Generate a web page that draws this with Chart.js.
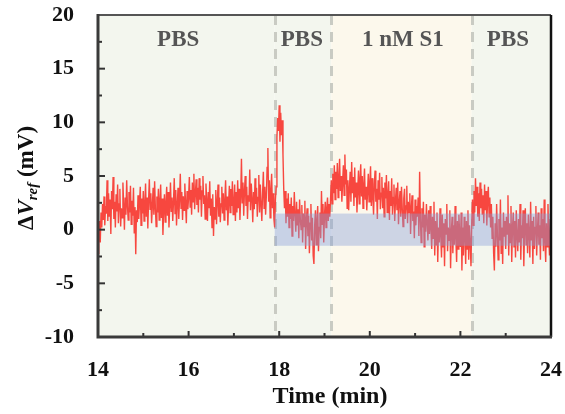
<!DOCTYPE html>
<html>
<head>
<meta charset="utf-8">
<script src="https://cdn.jsdelivr.net/npm/chart.js@4"></script>
<style>
  html, body { margin: 0; padding: 0; background: #fff; }
  #wrap { width: 565px; height: 414px; position: relative; }
</style>
</head>
<body>
<div id="wrap"><canvas id="main-chart"></canvas></div>
<script>
// sampling grid of the trace (min)
const sampleStart = 14;
const sampleStep = 1 / 60;

// ΔV_ref trace (mV), one value per sample (1 s)
const signal = [
  // 14 min
  -2.2, -0.6, 0.8, -1.2, 1.6, 0.2, 2.4, 0.9, 3.1, 0.4, 2.2, 1.5, 4.6, 0.8, 3.4,
  1.2, 2.8, -0.4, 3.6, 1.9, 4.9, 1.0, 2.6, 0.2, 3.3, 1.7, 4.2, 0.6, 2.4, 3.8,
  0.3, 2.0, 1.1, 4.4, 2.3, 0.0, 3.0, 1.4, 4.6, 2.2, 0.9, 3.5, 1.6, 4.1, 0.5,
  2.7, 1.3, 3.9, -0.3, 2.1, -2.3, 1.8, 0.7, 3.2, 1.0, 2.5, 4.0, 0.4, 2.9, 1.5,
  // 15 min
  3.6, 0.8, 2.4, 4.3, 1.2, 3.0, 0.1, 2.7, 4.7, 1.9, 3.4, 0.6, 2.2, 3.9, 1.4,
  4.5, 2.0, 0.3, 3.1, 1.6, 3.8, 0.9, 2.6, 4.2, 1.1, 2.9, -0.5, 1.8, 3.3, 0.7,
  2.5, 4.0, 1.3, 3.5, 0.2, 2.1, 4.4, 1.7, 3.0, 0.8, 2.6, 4.8, 1.5, 3.7, 0.4,
  2.3, 3.9, 1.0, 2.8, 5.2, 2.0, 3.5, 0.9, 3.1, 1.8, 4.3, 2.4, 0.6, 3.6, 1.9,
  // 16 min
  3.0, 4.9, 2.1, 3.7, 1.4, 4.4, 2.6, 5.2, 1.9, 3.4, 4.7, 2.3, 3.9, 1.6, 4.8,
  2.8, 4.1, 1.2, 3.6, 5.0, 2.4, 3.2, 1.0, 4.3, 2.7, 0.8, 3.5, 2.0, 4.5, 1.3,
  2.9, 0.2, 3.3, -0.6, 2.1, 1.0, 3.7, 0.5, 2.6, 4.2, 1.2, 3.0, 0.7, 2.4, 4.0,
  1.5, 3.4, 0.9, 2.7, 4.6, 1.8, 3.1, 0.4, 2.5, 4.1, 1.6, 3.8, 2.2, 4.5, 1.4,
  // 17 min
  2.4, 4.2, 0.8, 3.5, 1.6, 4.6, 2.0, 3.8, 0.9, 3.0, 6.6, 2.5, 4.4, 1.3, 3.6,
  5.0, 2.2, 4.0, 1.0, 3.2, 2.6, 5.6, 1.8, 4.3, 2.9, 0.7, 3.5, 1.9, 4.8, 2.4,
  3.9, 1.2, 3.0, 5.1, 1.6, 4.2, 2.3, 0.8, 3.4, 5.4, 2.0, 4.0, 1.4, 3.2, 5.8,
  7.6, 2.6, 4.6, 1.1, 3.7, 5.2, 2.0, 3.4, 1.0, 0.2, 2.8, 4.0, 8.6, 10.4, 9.2,
  // 18 min
  11.6, 8.2, 10.9, 8.8, 10.2, 7.0, 3.8, 2.0, 3.6, 0.6, 2.9, 1.2, 3.4, 0.2, 2.4,
  1.0, 3.0, -0.6, 2.2, 0.8, 3.5, 1.4, -0.2, 2.6, 0.4, 1.9, -0.8, 2.8, 1.0, 0.0,
  2.3, -1.2, 1.5, 0.3, 2.7, -1.8, 0.9, 2.0, -0.6, 1.3, -2.2, 0.6, 2.4, -1.0, 1.1,
  -2.4, -3.2, 0.4, 1.8, -1.4, 0.8, 2.2, -2.0, 0.2, 1.6, -0.8, 3.6, 0.5, 2.4, -1.2,
  // 19 min
  1.4, 2.6, 0.2, 2.0, 3.0, 0.8, 2.4, 1.2, 2.8, 4.6, 2.4, 5.2, 3.4, 6.0, 2.8,
  5.4, 3.8, 6.2, 3.0, 4.8, 6.6, 3.6, 5.0, 2.6, 4.4, 6.0, 3.2, 7.0, 4.2, 5.6,
  2.0, 4.6, 1.8, 3.8, 5.4, 2.6, 6.3, 3.4, 4.9, 2.2, 5.8, 3.0, 4.4, 1.6, 3.6,
  5.5, 2.4, 4.7, 6.1, 3.1, 5.0, 2.0, 4.2, 5.7, 2.8, 4.0, 1.8, 3.5, 5.2, 2.6,
  // 20 min
  4.3, 5.9, 2.2, 4.8, 3.0, 1.4, 4.2, 5.5, 2.6, 3.8, 1.0, 4.6, 2.8, 5.3, 1.9,
  3.4, 4.9, 2.0, 3.9, 1.2, 4.4, 2.9, 5.1, 1.6, 3.2, 4.5, 0.9, 3.6, 2.2, 4.8,
  1.4, 3.0, 4.2, 0.8, 2.7, 3.9, 1.8, 4.4, 0.5, 2.5, 3.6, 1.2, 4.0, 2.0, 0.3,
  2.9, 3.8, 1.0, 2.2, 4.1, 0.6, 2.6, 1.6, 3.4, -0.4, 2.0, 3.2, 0.8, 1.7, -0.8,
  // 21 min
  2.8, 0.4, 2.2, 1.2, 3.0, -0.6, 5.4, 1.0, -1.2, 2.0, 0.2, 2.6, -1.6, 1.4, -0.2,
  2.4, 0.6, -1.0, 1.8, -0.4, 2.2, 0.0, -1.8, 1.2, -0.8, 2.6, -2.4, 0.8, -1.4, 1.6,
  -3.0, 0.2, -1.2, 2.0, -0.6, -2.6, 1.4, -1.6, 0.6, -3.4, 1.0, -0.4, 2.4, -2.0, 0.2,
  -1.0, 1.8, -3.6, -0.2, 1.2, -2.2, 0.4, -1.4, 2.2, -0.8, -3.0, 0.8, -1.8, 1.4, -0.4,
  // 22 min
  -1.6, 1.6, -3.8, 0.2, -2.4, 1.2, -0.6, -3.2, 0.8, -1.8, 1.8, -2.8, 0.4, -1.2, -3.4,
  0.6, 2.8, 0.4, 3.6, 1.6, 4.8, 2.2, 4.0, 1.2, 3.4, 0.8, 4.4, 2.0, 3.8, 1.4,
  3.2, 0.6, 4.2, 1.8, 3.6, 0.4, 2.8, 4.0, 1.2, 3.0, 0.2, 2.4, -0.8, 1.2, -2.2,
  -3.8, 0.6, -1.6, 2.4, -0.4, -2.8, 1.0, -1.0, 2.8, -2.2, 0.2, -3.2, 1.6, -0.6, 0.8,
  // 23 min
  -1.8, 1.2, -0.4, 3.2, -2.4, 0.6, -1.2, 2.2, -3.0, 0.2, 1.6, -1.6, 0.8, -2.6, 1.8,
  -0.6, -2.0, 1.0, -1.2, 2.4, -2.8, 0.4, -0.8, 1.8, -3.4, 0.0, 2.0, -1.4, 0.6, -2.2,
  1.4, -0.4, -2.6, 2.6, -1.0, 0.8, -3.2, 1.2, -1.8, 0.2, 2.2, -2.4, -0.2, 1.6, -1.4,
  0.4, -2.8, 2.0, -0.8, 1.0, -2.0, 2.8, -1.2, -3.0, 0.6, -1.6, 2.4, -0.6, -2.4, 1.0,
  -1.8
];

// solution phases: boundaries (min) and names
const phaseBounds = [14, 17.9, 19.15, 22.25, 24];
const phaseNames = ['PBS', 'PBS', '1 nM S1', 'PBS'];

// reference band (mV) shown from the first switch onward
const bandLow = -1.5;
const bandHigh = 1.5;
const bandFrom = 17.9;

// axis ticks
const xTicks = [14, 16, 18, 20, 22, 24];
const yTicks = [-10, -5, 0, 5, 10, 15, 20];

(function () {
  const canvas = document.getElementById('main-chart');
  const serif = '"Liberation Serif", "Times New Roman", serif';

  const points = signal.map((v, i) => ({ x: sampleStart + i * sampleStep, y: v }));

  // phase fills + label spots (drawn, not data)
  const phaseFill = ['#f3f6ee', '#f3f6ee', '#fcf8ec', '#f3f6ee'];
  const labelAt = [15.77, 18.5, 20.73, 23.05];

  const decor = {
    id: 'decor',
    beforeDatasetsDraw(chart) {
      const { ctx, chartArea: a, scales: { x } } = chart;
      ctx.save();
      for (let i = 0; i < phaseNames.length; i++) {
        const x0 = x.getPixelForValue(phaseBounds[i]);
        const x1 = x.getPixelForValue(phaseBounds[i + 1]);
        ctx.fillStyle = phaseFill[i];
        ctx.fillRect(x0, a.top, x1 - x0, a.bottom - a.top);
      }
      // dashed switch lines
      ctx.strokeStyle = '#c9cbc3';
      ctx.lineWidth = 3;
      ctx.setLineDash([10, 7]);
      for (let i = 1; i < phaseBounds.length - 1; i++) {
        const px = Math.round(x.getPixelForValue(phaseBounds[i])) + 0.5;
        ctx.beginPath();
        ctx.moveTo(px, a.top);
        ctx.lineTo(px, a.bottom);
        ctx.stroke();
      }
      ctx.restore();
    },
    afterDatasetsDraw(chart) {
      const { ctx, chartArea: a, scales: { x, y } } = chart;
      ctx.save();
      // translucent band over the trace
      const bx = x.getPixelForValue(bandFrom);
      const by0 = y.getPixelForValue(bandHigh);
      const by1 = y.getPixelForValue(bandLow);
      ctx.fillStyle = 'rgba(135,158,218,0.4)';
      ctx.fillRect(bx, by0, a.right - bx, by1 - by0);

      // phase names
      ctx.fillStyle = '#555';
      ctx.font = 'bold 23px ' + serif;
      ctx.textAlign = 'center';
      ctx.textBaseline = 'middle';
      phaseNames.forEach((n, i) => ctx.fillText(n, x.getPixelForValue(labelAt[i]), 40));

      // inward ticks
      ctx.strokeStyle = '#333';
      ctx.lineWidth = 2;
      ctx.setLineDash([]);
      for (let v = 14; v <= 24; v++) {
        const px = x.getPixelForValue(v);
        const len = v % 2 === 0 ? 6 : 4;
        ctx.beginPath();
        ctx.moveTo(px, a.bottom);
        ctx.lineTo(px, a.bottom - len);
        ctx.stroke();
      }
      for (let v = -10; v <= 20; v += 2.5) {
        const py = y.getPixelForValue(v);
        const len = v % 5 === 0 ? 7 : 4;
        ctx.beginPath();
        ctx.moveTo(a.left, py);
        ctx.lineTo(a.left + len, py);
        ctx.stroke();
      }

      // frame
      ctx.lineWidth = 2;
      ctx.strokeStyle = '#555';
      ctx.beginPath();
      ctx.moveTo(a.left, a.top);
      ctx.lineTo(a.right, a.top);
      ctx.stroke();
      ctx.strokeStyle = '#111';
      ctx.lineWidth = 2.5;
      ctx.beginPath();
      ctx.moveTo(a.right, a.top);
      ctx.lineTo(a.right, a.bottom);
      ctx.stroke();
      ctx.strokeStyle = '#3a3a3a';
      ctx.lineWidth = 3;
      ctx.beginPath();
      ctx.moveTo(a.left, a.top - 1);
      ctx.lineTo(a.left, a.bottom);
      ctx.lineTo(a.right + 1, a.bottom);
      ctx.stroke();

      // axis titles
      ctx.fillStyle = '#111';
      ctx.textAlign = 'center';
      ctx.textBaseline = 'middle';
      ctx.font = 'bold 24px ' + serif;
      ctx.fillText('Time (min)', 330, 397);

      ctx.translate(27, 178);
      ctx.rotate(-Math.PI / 2);
      const parts = [
        { t: '\u0394', f: 'bold 23px ' + serif, dy: 0 },
        { t: 'V', f: 'italic bold 23px ' + serif, dy: 0 },
        { t: 'ref', f: 'italic bold 15px ' + serif, dy: 6 },
        { t: ' (mV)', f: 'bold 23px ' + serif, dy: 0 },
      ];
      let w = 0;
      parts.forEach((p) => { ctx.font = p.f; w += ctx.measureText(p.t).width; });
      let cx = -w / 2;
      ctx.textAlign = 'left';
      parts.forEach((p) => {
        ctx.font = p.f;
        ctx.fillText(p.t, cx, p.dy);
        cx += ctx.measureText(p.t).width;
      });
      ctx.restore();
    },
  };

  new Chart(canvas, {
    type: 'line',
    data: {
      datasets: [{
        data: points,
        borderColor: '#f7473f',
        borderWidth: 1.4,
        pointRadius: 0,
        tension: 0,
        fill: false,
      }],
    },
    options: {
      responsive: true,
      maintainAspectRatio: false,
      animation: false,
      events: [],
      layout: { padding: { left: 0, right: 14, top: 15, bottom: 0 } },
      plugins: { legend: { display: false }, tooltip: { enabled: false } },
      scales: {
        x: {
          type: 'linear',
          min: 14,
          max: 24,
          grid: { display: false },
          border: { display: false },
          afterFit: (s) => { s.height = 77; s.paddingLeft = 0; s.paddingRight = 0; },
          afterBuildTicks: (s) => { s.ticks = xTicks.map((v) => ({ value: v })); },
          ticks: {
            padding: 12,
            color: '#111',
            font: { family: serif, size: 22, weight: 'bold' },
            maxRotation: 0,
          },
        },
        y: {
          min: -10,
          max: 20,
          grid: { display: false },
          border: { display: false },
          afterFit: (s) => { s.width = 98; s.paddingTop = 0; s.paddingBottom = 0; },
          afterBuildTicks: (s) => { s.ticks = yTicks.map((v) => ({ value: v })); },
          ticks: {
            padding: 16,
            color: '#111',
            font: { family: serif, size: 22, weight: 'bold' },
          },
        },
      },
    },
    plugins: [decor],
  });
})();
</script>
</body>
</html>
